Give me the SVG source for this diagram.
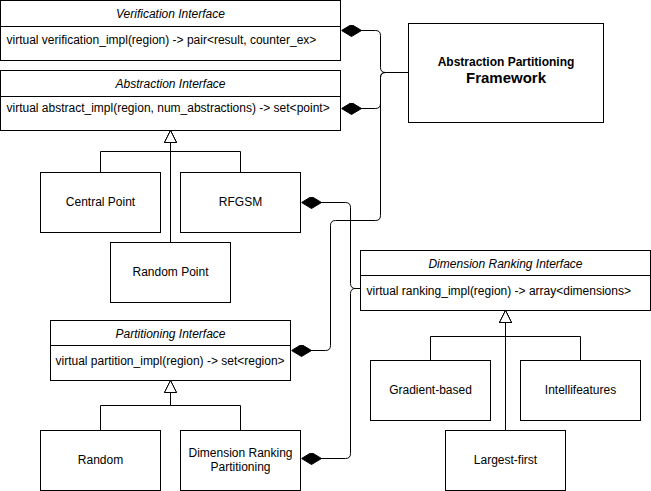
<svg xmlns="http://www.w3.org/2000/svg" width="651" height="491" viewBox="0 0 651 491">
<style>
  .box { fill: #ffffff; stroke: #000000; stroke-width: 1; }
  .ln { fill: none; stroke: #000000; stroke-width: 1; }
  text { font-family: "Liberation Sans", Arial, Helvetica, sans-serif; font-size: 12px; fill: #000000; }
  .hdr { font-style: italic; text-anchor: middle; }
  .mid { text-anchor: middle; }
  .b { font-weight: bold; text-anchor: middle; }
  .comp { fill: none; stroke: #000000; stroke-width: 1; marker-end: url(#diamond); }
  .inh { fill: none; stroke: #000000; stroke-width: 1; marker-end: url(#tri); }
</style>
<defs>
  <marker id="diamond" markerUnits="userSpaceOnUse" viewBox="0 0 20 12" markerWidth="20" markerHeight="12" refX="20" refY="6" orient="auto">
    <path d="M0,6 L10,0 L20,6 L10,12 Z" fill="#000000" stroke="#000000" stroke-width="1"/>
  </marker>
  <marker id="tri" markerUnits="userSpaceOnUse" viewBox="0 0 14 14" markerWidth="14" markerHeight="14" refX="13" refY="7" orient="auto">
    <path d="M1,1 L13,7 L1,13 Z" fill="#ffffff" stroke="#000000" stroke-width="1"/>
  </marker>
</defs>
<rect x="0" y="0" width="651" height="491" fill="#ffffff"/>
<g transform="translate(0.5,0.5)">
  <g id="connectors">
    <path class="comp" d="M408,72 L385,72 Q380,72 380,67 L380,35 Q380,30 375,30 L341,30"/>
    <path class="comp" d="M408,72 L385,72 Q380,72 380,77 L380,103 Q380,108 375,108 L341,108"/>
    <path class="comp" d="M408,72 L385,72 Q380,72 380,77 L380,215 Q380,220 375,220 L335,220 Q330,220 330,225 L330,345 Q330,350 325,350 L291,350"/>
    <path class="comp" d="M360,288 L355,288 Q350,288 350,283 L350,207 Q350,202 345,202 L301,202"/>
    <path class="comp" d="M360,288 L355,288 Q350,288 350,293 L350,453 Q350,458 345,458 L301,458"/>
    <path class="inh" d="M100,172 L100,151 L170,151 L170,130"/>
    <path class="inh" d="M240,172 L240,151 L170,151 L170,130"/>
    <path class="inh" d="M170,242 L170,130"/>
    <path class="inh" d="M100,430 L100,405 L170,405 L170,380"/>
    <path class="inh" d="M240,430 L240,405 L170,405 L170,380"/>
    <path class="inh" d="M430,360 L430,336 L505,336 L505,310"/>
    <path class="inh" d="M580,360 L580,336 L505,336 L505,310"/>
    <path class="inh" d="M505,430 L505,310"/>
  </g>

  <g id="verification-interface">
    <rect class="box" x="0" y="0" width="340" height="60"/>
    <line class="ln" x1="0" y1="26" x2="340" y2="26"/>
    <text class="hdr" x="170" y="17">Verification Interface</text>
    <text x="6" y="43">virtual verification_impl(region) -&gt; pair&lt;result, counter_ex&gt;</text>
  </g>

  <g id="abstraction-interface">
    <rect class="box" x="0" y="70" width="340" height="60"/>
    <line class="ln" x1="0" y1="96" x2="340" y2="96"/>
    <text class="hdr" x="170" y="87">Abstraction Interface</text>
    <text x="6" y="111">virtual abstract_impl(region, num_abstractions) -&gt; set&lt;point&gt;</text>
  </g>

  <g id="framework">
    <rect class="box" x="408" y="23" width="195" height="99"/>
    <text class="b" x="505.5" y="65">Abstraction Partitioning</text>
    <text class="b" x="505.5" y="82" style="font-size:15px">Framework</text>
  </g>

  <g id="central-point">
    <rect class="box" x="40" y="172" width="120" height="60"/>
    <text class="mid" x="100" y="205">Central Point</text>
  </g>

  <g id="rfgsm">
    <rect class="box" x="180" y="172" width="120" height="60"/>
    <text class="mid" x="240" y="205">RFGSM</text>
  </g>

  <g id="random-point">
    <rect class="box" x="110" y="242" width="120" height="60"/>
    <text class="mid" x="170" y="275">Random Point</text>
  </g>

  <g id="partitioning-interface">
    <rect class="box" x="50" y="320" width="240" height="60"/>
    <line class="ln" x1="50" y1="345" x2="290" y2="345"/>
    <text class="hdr" x="170" y="337">Partitioning Interface</text>
    <text x="55" y="364">virtual partition_impl(region) -&gt; set&lt;region&gt;</text>
  </g>

  <g id="random">
    <rect class="box" x="40" y="430" width="120" height="60"/>
    <text class="mid" x="100" y="463">Random</text>
  </g>

  <g id="dimension-ranking-partitioning">
    <rect class="box" x="180" y="430" width="120" height="60"/>
    <text class="mid" x="240" y="456">Dimension Ranking</text>
    <text class="mid" x="240" y="470">Partitioning</text>
  </g>

  <g id="dimension-ranking-interface">
    <rect class="box" x="360" y="250" width="290" height="60"/>
    <line class="ln" x1="360" y1="275" x2="650" y2="275"/>
    <text class="hdr" x="505" y="267">Dimension Ranking Interface</text>
    <text x="366" y="294">virtual ranking_impl(region) -&gt; array&lt;dimensions&gt;</text>
  </g>

  <g id="gradient-based">
    <rect class="box" x="370" y="360" width="120" height="60"/>
    <text class="mid" x="430" y="393">Gradient-based</text>
  </g>

  <g id="intellifeatures">
    <rect class="box" x="520" y="360" width="120" height="60"/>
    <text class="mid" x="580" y="393">Intellifeatures</text>
  </g>

  <g id="largest-first">
    <rect class="box" x="445" y="430" width="120" height="60"/>
    <text class="mid" x="505" y="463">Largest-first</text>
  </g>
</g>
</svg>
